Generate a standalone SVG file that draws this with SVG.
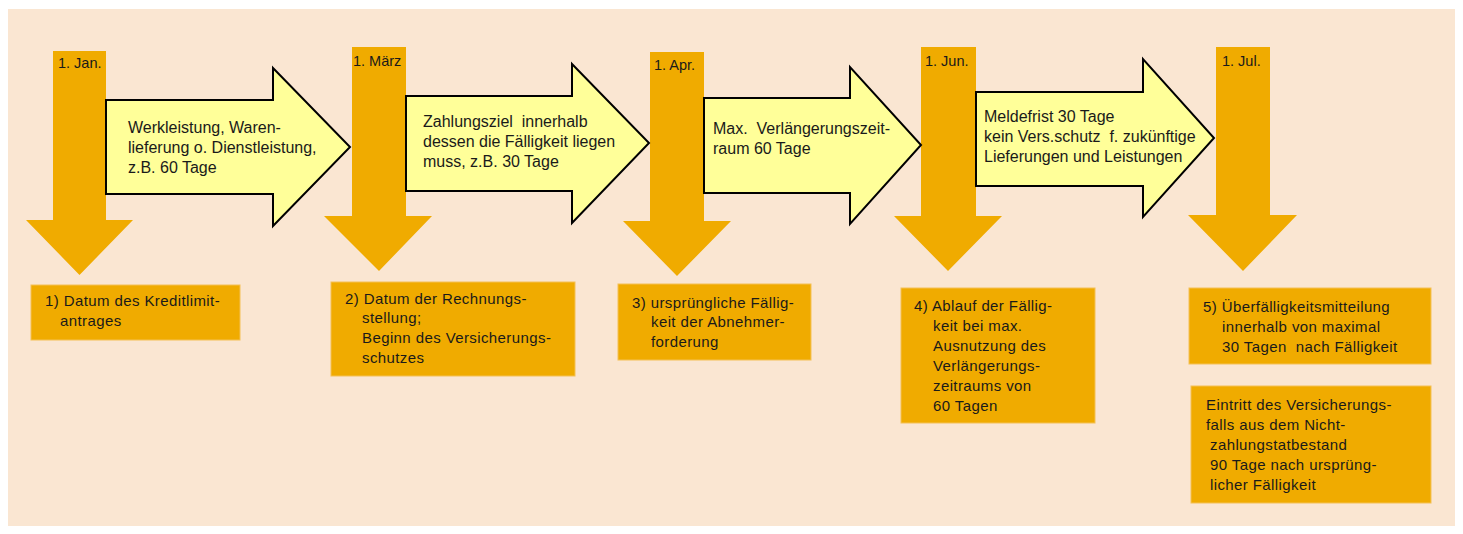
<svg xmlns="http://www.w3.org/2000/svg" width="1463" height="534" viewBox="0 0 1463 534">
<style>
.bg{fill:#FAE6D2}
.down{fill:#F0AB00}
.box{fill:#F0AB00;stroke:#F4C055;stroke-width:1}
.yel{fill:#FFFF99;stroke:#000;stroke-width:2;stroke-linejoin:miter}
text{font-family:"Liberation Sans",Arial,sans-serif;fill:#1A1A1A;white-space:pre}
.d{font-size:14.5px}
.a{font-size:16px}
.b{font-size:15px;letter-spacing:0.4px}
</style>
<rect width="1463" height="534" fill="#FFFFFF"/>
<rect class="bg" x="8" y="9" width="1447" height="517"/>

<g id="date-jan">
<polygon class="down" points="53,51 106,51 106,220 133,220 79.5,275 26,220 53,220"/>
<text class="d" x="58" y="68">1. Jan.</text>
</g>
<g id="date-maerz">
<polygon class="down" points="352,47 406,47 406,216 432,216 379,271 324,216 352,216"/>
<text class="d" x="353" y="66">1. März</text>
</g>
<g id="date-apr">
<polygon class="down" points="650,52 704,52 704,221 731,221 677,276 623,221 650,221"/>
<text class="d" x="654" y="70">1. Apr.</text>
</g>
<g id="date-jun">
<polygon class="down" points="921,47 976,47 976,216 1002,216 948,271 894,216 921,216"/>
<text class="d" x="925" y="66">1. Jun.</text>
</g>
<g id="date-jul">
<polygon class="down" points="1216,47 1270,47 1270,215 1297,215 1243,271 1188,215 1216,215"/>
<text class="d" x="1222" y="66">1. Jul.</text>
</g>

<g id="connectors">
<g id="phase-1">
<polygon class="yel" points="106,100 273,100 273,68 350,147 273,226 273,194 106,194"/>
<text class="a" x="128" y="133">Werkleistung, Waren-</text>
<text class="a" x="128" y="153">lieferung o. Dienstleistung,</text>
<text class="a" x="128" y="173">z.B. 60 Tage</text>
</g>
<g id="phase-2">
<polygon class="yel" points="406,96 572,96 572,64 649,143 572,223 572,191 406,191"/>
<text class="a" x="423" y="127">Zahlungsziel  innerhalb</text>
<text class="a" x="423" y="147">dessen die Fälligkeit liegen</text>
<text class="a" x="423" y="167">muss, z.B. 30 Tage</text>
</g>
<g id="phase-3">
<polygon class="yel" points="704,98 850,98 850,67 921,145 850,224 850,193 704,193"/>
<text class="a" x="713" y="134">Max.  Verlängerungszeit-</text>
<text class="a" x="713" y="154">raum 60 Tage</text>
</g>
<g id="phase-4">
<polygon class="yel" points="976,92 1143,92 1143,59 1214,138 1143,217 1143,186 976,186"/>
<text class="a" x="984" y="122">Meldefrist 30 Tage</text>
<text class="a" x="984" y="142">kein Vers.schutz  f. zukünftige</text>
<text class="a" x="984" y="162">Lieferungen und Leistungen</text>
</g>
</g>

<g id="box-1">
<rect class="box" x="31" y="285" width="209" height="55"/>
<text class="b" x="45" y="306">1) Datum des Kreditlimit-</text>
<text class="b" x="60" y="326">antrages</text>
</g>
<g id="box-2">
<rect class="box" x="331" y="282" width="244" height="94"/>
<text class="b" x="345" y="304">2) Datum der Rechnungs-</text>
<text class="b" x="362" y="323">stellung;</text>
<text class="b" x="362" y="343">Beginn des Versicherungs-</text>
<text class="b" x="362" y="363">schutzes</text>
</g>
<g id="box-3">
<rect class="box" x="618" y="284" width="193" height="76"/>
<text class="b" x="632" y="308">3) ursprüngliche Fällig-</text>
<text class="b" x="651" y="327">keit der Abnehmer-</text>
<text class="b" x="651" y="347">forderung</text>
</g>
<g id="box-4">
<rect class="box" x="901" y="288" width="194" height="135"/>
<text class="b" x="914" y="311">4) Ablauf der Fällig-</text>
<text class="b" x="933" y="331">keit bei max.</text>
<text class="b" x="933" y="351">Ausnutzung des</text>
<text class="b" x="933" y="371">Verlängerungs-</text>
<text class="b" x="933" y="391">zeitraums von</text>
<text class="b" x="933" y="411">60 Tagen</text>
</g>
<g id="box-5">
<rect class="box" x="1189" y="288" width="242" height="76"/>
<text class="b" x="1203" y="312">5) Überfälligkeitsmitteilung</text>
<text class="b" x="1222" y="332">innerhalb von maximal</text>
<text class="b" x="1222" y="352">30 Tagen  nach Fälligkeit</text>
</g>
<g id="box-6">
<rect class="box" x="1191" y="386" width="240" height="117"/>
<text class="b" x="1206" y="410">Eintritt des Versicherungs-</text>
<text class="b" x="1206" y="430">falls aus dem Nicht-</text>
<text class="b" x="1210" y="450">zahlungstatbestand</text>
<text class="b" x="1210" y="470">90 Tage nach ursprüng-</text>
<text class="b" x="1210" y="490">licher Fälligkeit</text>
</g>
</svg>
